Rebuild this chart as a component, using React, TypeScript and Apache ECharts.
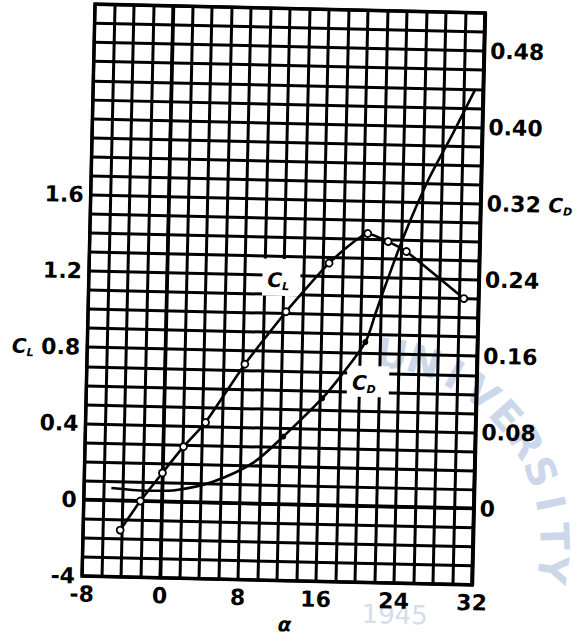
import React, { useEffect, useRef } from 'react';
import * as echarts from 'echarts';

// Angle of attack (deg) tick labels shown on the x axis
const alphaTickValues = [-8, 0, 8, 16, 24, 32];
// Left axis (lift coefficient) labelled ticks and their printed text
const clTickValues = [-0.4, 0, 0.4, 0.8, 1.2, 1.6];
const clTickTexts = ['-4', '0', '0.4', '{c|C}{s|L} 0.8', '1.2', '1.6'];
// Right axis (drag coefficient) labelled ticks and their printed text
const cdTickValues = [0, 0.08, 0.16, 0.24, 0.32, 0.4, 0.48];
const cdTickTexts = ['0', '0.08', '0.16', '0.24', '0.32 {c|C}{s|D}', '0.40', '0.48'];

// Lift coefficient measurements
const clAlpha = [-4.2, -2.2, 0.0, 2.1, 4.3, 8.2, 12.3, 16.6, 20.5, 22.6, 24.5, 30.5];
const clValues = [-0.155, 0.0, 0.15, 0.29, 0.42, 0.73, 1.01, 1.27, 1.43, 1.39, 1.34, 1.1];

// Drag coefficient curve
const cdAlpha = [-5.2, -1.6, 1.5, 5.2, 9.3, 12.3, 16.2, 18.0, 20.5, 21.5, 22.4, 24.2, 26.6, 29.0, 31.2];
const cdValues = [0.013, 0.011, 0.0125, 0.022, 0.043, 0.071, 0.112, 0.135, 0.172, 0.203, 0.231, 0.284, 0.344, 0.393, 0.44];
// Which drag points carry a visible dot
const cdDotted = [false, false, false, false, false, true, true, false, true, false, false, false, false, false, false];

// Faint scanned watermark (seal) text
const sealLetters = ['U', 'N', 'I', 'V', 'E', 'R', 'S', 'I', 'T', 'Y'];
const sealYear = '1945';

const FONT = '"DejaVu Sans", sans-serif';

const richStyles = {
  c: { fontFamily: FONT, fontSize: 20, fontStyle: 'italic', fontWeight: 'bold', lineHeight: 24, verticalAlign: 'middle', color: '#000' },
  s: { fontFamily: FONT, fontSize: 11, fontStyle: 'italic', fontWeight: 'bold', lineHeight: 12, verticalAlign: 'bottom', color: '#000' },
};

function pick(values: number[], texts: string[], v: number, scale: number) {
  const k = Math.round(v * scale);
  for (let i = 0; i < values.length; i++) {
    if (Math.round(values[i] * scale) === k) return texts[i];
  }
  return '';
}

export default function App() {
  const ref = useRef<HTMLDivElement>(null);

  useEffect(() => {
    if (!ref.current) return;
    const chart = echarts.init(ref.current, undefined, { renderer: 'svg' });

    const labelBase = {
      fontFamily: FONT,
      fontSize: 22,
      fontWeight: 'bold',
      color: '#000',
    };

    // watermark seal, drawn underneath everything
    const sealCx = 370;
    const sealCy = 540;
    const sealR = 190;
    const watermark: any[] = sealLetters.map((ch, i) => {
      const deg = 7 + i * 10;
      const rad = (deg * Math.PI) / 180;
      return {
        type: 'text',
        z: -5,
        silent: true,
        x: sealCx + sealR * Math.sin(rad),
        y: sealCy - sealR * Math.cos(rad),
        rotation: -rad,
        style: {
          text: ch,
          fontFamily: FONT,
          fontSize: 40,
          fontWeight: 'bold',
          fill: '#ccd8ea',
          align: 'center',
          verticalAlign: 'middle',
        },
      };
    });
    watermark.push({
      type: 'text',
      z: -5,
      silent: true,
      x: 402,
      y: 612,
      style: {
        text: sealYear,
        fontFamily: FONT,
        fontSize: 26,
        fill: '#d3ddec',
        align: 'center',
        verticalAlign: 'middle',
      },
    });

    const option: any = {
      animation: false,
      backgroundColor: 'transparent',
      grid: {
        left: 88.5,
        top: 8.5,
        width: 390,
        height: 572,
        show: true,
        borderColor: '#000',
        borderWidth: 3.5,
        backgroundColor: 'transparent',
      },
      xAxis: {
        type: 'value',
        min: -8,
        max: 32,
        interval: 2,
        name: 'α',
        nameLocation: 'middle',
        nameGap: 32,
        nameTextStyle: {
          fontFamily: FONT,
          fontSize: 20,
          fontWeight: 'bold',
          fontStyle: 'italic',
          color: '#000',
          padding: [0, 0, 0, 17],
        },
        axisLine: { show: true, lineStyle: { color: '#000', width: 3.5 } },
        axisTick: { show: false },
        splitLine: { show: true, lineStyle: { color: '#000', width: 3 } },
        axisLabel: {
          ...labelBase,
          margin: 7,
          showMinLabel: true,
          showMaxLabel: true,
          formatter: (v: number) => (alphaTickValues.indexOf(Math.round(v)) >= 0 ? String(Math.round(v)) : ''),
        },
      },
      yAxis: [
        {
          type: 'value',
          position: 'left',
          min: -0.4,
          max: 2.6,
          interval: 0.1,
          axisLine: { show: true, lineStyle: { color: '#000', width: 3.5 } },
          axisTick: { show: false },
          splitLine: { show: true, lineStyle: { color: '#000', width: 3 } },
          axisLabel: {
            ...labelBase,
            margin: 7,
            showMinLabel: true,
            showMaxLabel: true,
            rich: richStyles,
            formatter: (v: number) => pick(clTickValues, clTickTexts, v, 10),
          },
        },
        {
          type: 'value',
          position: 'right',
          min: -0.08,
          max: 0.52,
          interval: 0.02,
          axisLine: { show: true, lineStyle: { color: '#000', width: 3.5 } },
          axisTick: { show: false },
          splitLine: { show: false },
          axisLabel: {
            ...labelBase,
            margin: 6,
            showMinLabel: true,
            showMaxLabel: true,
            rich: richStyles,
            formatter: (v: number) => pick(cdTickValues, cdTickTexts, v, 100),
          },
        },
      ],
      graphic: [
        ...watermark,
        { type: 'rect', z: 1, shape: { x: 262, y: 259, width: 38, height: 37 }, style: { fill: '#fff' } },
        { type: 'rect', z: 1, shape: { x: 349, y: 364, width: 42, height: 31 }, style: { fill: '#fff' } },
        {
          type: 'text',
          z: 10,
          x: 278,
          y: 280,
          style: { text: '{c|C}{s|L}', rich: richStyles, align: 'center', verticalAlign: 'middle', fill: '#000' },
        },
        {
          type: 'text',
          z: 10,
          x: 366,
          y: 381,
          style: { text: '{c|C}{s|D}', rich: richStyles, align: 'center', verticalAlign: 'middle', fill: '#000' },
        },
      ],
      series: [
        {
          name: 'CD',
          type: 'line',
          yAxisIndex: 1,
          z: 3,
          smooth: 0.3,
          showSymbol: true,
          lineStyle: { color: '#000', width: 2.6 },
          data: cdAlpha.map((a, i) => ({
            value: [a, cdValues[i]],
            symbol: cdDotted[i] ? 'circle' : 'none',
            symbolSize: 5,
            itemStyle: { color: '#000', borderColor: '#000', borderWidth: 1 },
          })),
        },
        {
          name: 'CL',
          type: 'line',
          yAxisIndex: 0,
          z: 4,
          smooth: 0.15,
          symbol: 'circle',
          symbolSize: 7,
          showSymbol: true,
          lineStyle: { color: '#000', width: 2.6 },
          itemStyle: { color: '#fff', borderColor: '#000', borderWidth: 1.8 },
          data: clAlpha.map((a, i) => [a, clValues[i]]),
        },
      ],
    };

    chart.setOption(option);
    return () => chart.dispose();
  }, []);

  return (
    <div
      ref={ref}
      style={{
        position: 'absolute',
        left: 0,
        top: 0,
        width: 577,
        height: 641,
        transform: 'rotate(1.3deg)',
        transformOrigin: '283.5px 294.5px',
      }}
    />
  );
}
